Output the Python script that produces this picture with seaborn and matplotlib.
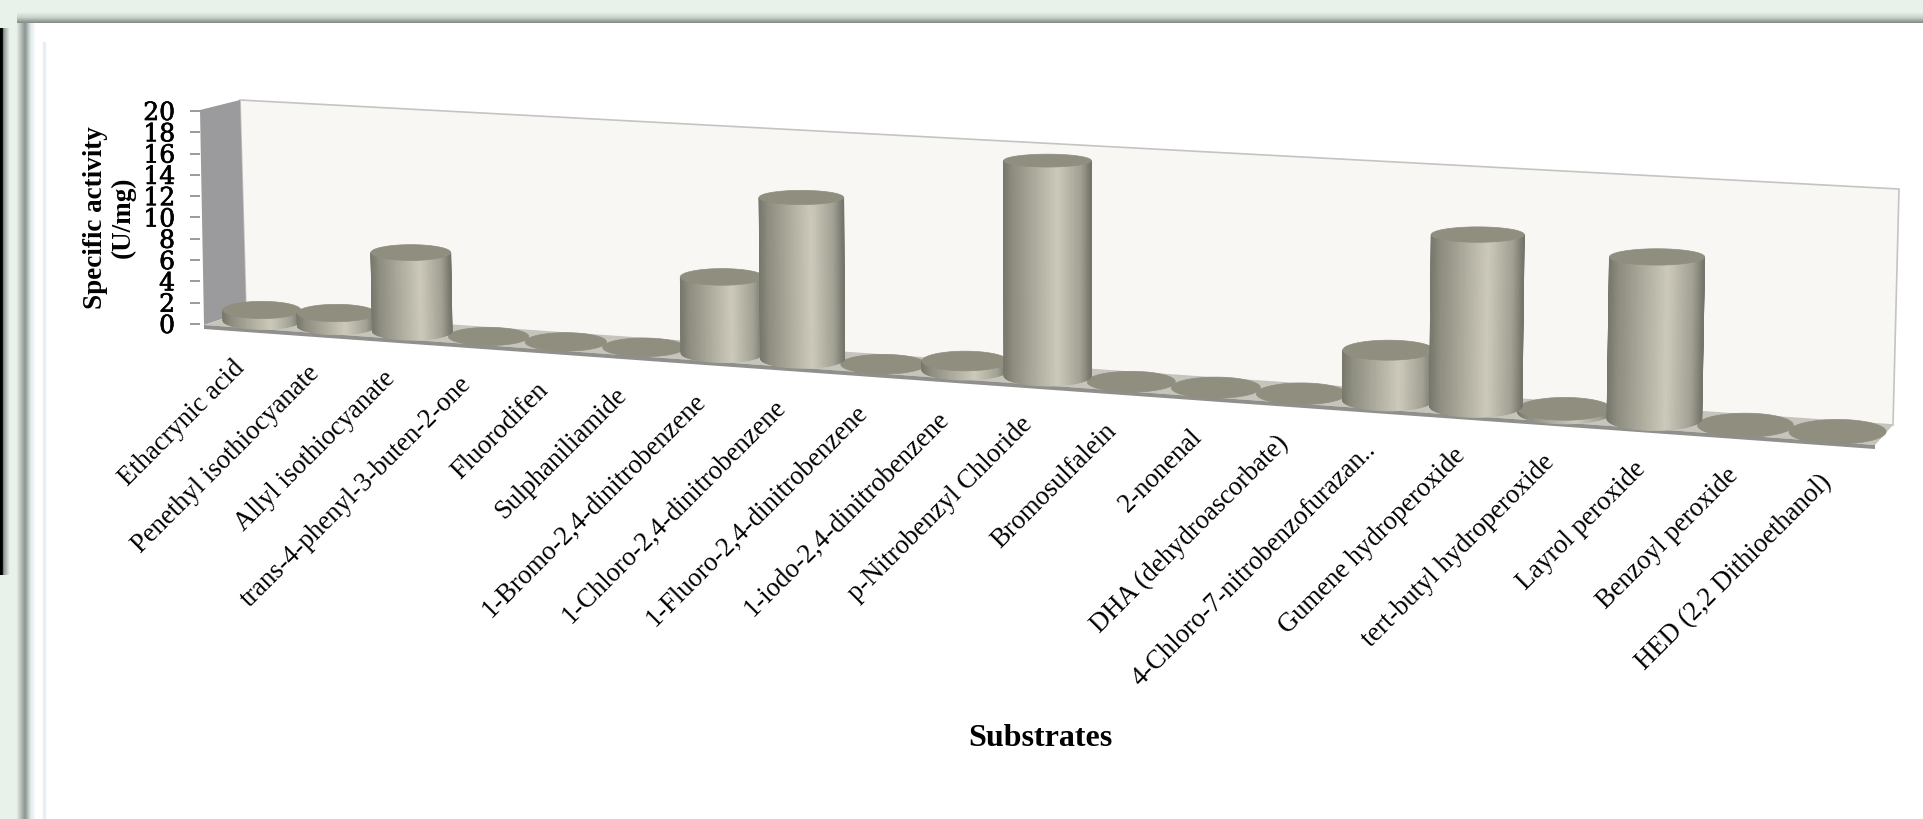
import numpy as np
import pandas as pd
import matplotlib
matplotlib.use("Agg")
import matplotlib.pyplot as plt
import matplotlib.patheffects as pe
from matplotlib.collections import PolyCollection
from matplotlib.colors import LinearSegmentedColormap
from matplotlib.patches import Polygon
from matplotlib.transforms import Transform, Affine2D
import seaborn as sns

# Specific activity of the enzyme towards each substrate
substrates = [
    "Ethacrynic acid", "Penethyl isothiocyanate", "Allyl isothiocyanate",
    "trans-4-phenyl-3-buten-2-one", "Fluorodifen", "Sulphaniliamide",
    "1-Bromo-2,4-dinitrobenzene", "1-Chloro-2,4-dinitrobenzene",
    "1-Fluoro-2,4-dinitrobenzene", "1-iodo-2,4-dinitrobenzene",
    "p-Nitrobenzyl Chloride", "Bromosulfalein", "2-nonenal",
    "DHA (dehydroascorbate)", "4-Chloro-7-nitrobenzofurazan..",
    "Gumene hydroperoxide", "tert-butyl hydroperoxide", "Layrol peroxide",
    "Benzoyl peroxide", "HED (2,2 Dithioethanol)",
]
activity = [1.0, 1.2, 7.3, 0, 0, 0, 6.9, 14.5, 0, 0.8,
            19.0, 0, 0, 0, 4.3, 14.7, 0.3, 13.7, 0, 0]
y_ticks = list(range(0, 21, 2))

W, H = 1923, 819
sns.set_style("white")
plt.rcParams["font.family"] = ["Liberation Serif", "DejaVu Serif"]


def homography(src, dst):
    """Solve the 3x3 plane mapping that carries four src points onto dst."""
    rows, rhs = [], []
    for (a, b), (px, py) in zip(src, dst):
        rows.append([a, b, 1, 0, 0, 0, -a * px, -b * px])
        rows.append([0, 0, 0, a, b, 1, -a * py, -b * py])
        rhs += [px, py]
    return np.append(np.linalg.solve(np.array(rows, float), np.array(rhs, float)), 1).reshape(3, 3)


# Chart box: corners on screen of the front and back planes, (category, value) -> pixels from top-left
n = len(substrates)
box = [(-0.5, 0), (n - 0.5, 0), (n - 0.5, 20), (-0.5, 20)]
front_px = [(204, 325), (1875, 445), (1880, 200), (200, 110)]
back_px = [(246, 311), (1893, 425), (1899, 189), (240, 100)]
H_front = homography(box, front_px)
H_back = homography(box, back_px)
X_BOW = 12  # eases the foreshortening along the category direction


def project(u, v, depth=0.5):
    u, v, depth = np.broadcast_arrays(np.asarray(u, float), np.asarray(v, float), np.asarray(depth, float))
    pts = np.stack([u, v, np.ones_like(u)], axis=-1)
    f = pts @ H_front.T
    b = pts @ H_back.T
    f = f[..., :2] / f[..., 2:]
    b = b[..., :2] / b[..., 2:]
    xy = f * (1 - depth)[..., None] + b * depth[..., None]
    s = (u + 0.5) / n
    xy[..., 0] += X_BOW * s * (1 - s)
    return xy


class BoxTransform(Transform):
    """(category, value) at a fixed depth of the box -> display coordinates."""
    input_dims = output_dims = 2
    is_affine = False
    has_inverse = False

    def __init__(self, plane_depth=0.5):
        super().__init__()
        self.plane_depth = plane_depth

    def transform_non_affine(self, values):
        values = np.asarray(values, float)
        xy = project(values[:, 0], values[:, 1], self.plane_depth)
        return np.column_stack([xy[:, 0], H - xy[:, 1]])


fig = plt.figure(figsize=(W / 100, H / 100), dpi=100, facecolor="#e9f2ea")

# Page furniture behind the chart
bg = fig.add_axes([0, 0, 1, 1], zorder=0)
bg.axis("off")


def shade(ax, extent, colors, vertical=False):
    cmap = LinearSegmentedColormap.from_list("band", colors)
    grad = np.linspace(0, 1, 64)
    grad = grad[:, None] if vertical else grad[None, :]
    ax.imshow(grad, extent=extent, cmap=cmap, aspect="auto", interpolation="bilinear",
              zorder=1, origin="upper")


bg.add_patch(plt.Rectangle((24, 23), W, H, color="white", zorder=0.5))
shade(bg, (17, W, 23, 12), ["#e9f2ea", "#c9d2cb", "#7f8a82"], vertical=True)
shade(bg, (16, 25, H, 23), ["#eef4ef", "#8e9690"])
shade(bg, (25, 36, H, 23), ["#8b9390", "#dfe8ea", "#ffffff"])
shade(bg, (0, 10, 575, 28), [(0, "#000000"), (0.27, "#000000"), (0.32, "#8a8f8a"), (1, "#eef4ef")])
bg.add_patch(plt.Rectangle((42.5, 42), 2, H, color="#e8eef2", zorder=2))
bg.set_xlim(0, W)
bg.set_ylim(H, 0)

# Chart axes: the value axis sits on the box's front-left edge
ax = fig.add_axes([200 / W, 1 - 324 / H, 1680 / W, 213 / H], zorder=2)
ax.patch.set_alpha(0)
df = pd.DataFrame({"substrate": substrates, "activity": activity})
sns.barplot(data=df, x="substrate", y="activity", color="#a9a798", width=0.8,
            order=substrates, ax=ax, zorder=3)
bars = list(ax.containers[0])
ax.set_xlim(-0.5, n - 0.5)
ax.set_ylim(0, 20)
ax.set_yticks(y_ticks)
ax.set_yticklabels(y_ticks, fontfamily="DejaVu Serif", fontsize=18, color="black")
for tick_label in ax.get_yticklabels():
    tick_label.set_path_effects([pe.withStroke(linewidth=0.5, foreground="black")])
ax.tick_params(axis="y", length=7, width=1.2, color="#8a8a8a", pad=11, left=True)
ax.tick_params(axis="x", bottom=False, labelbottom=False)
sns.despine(ax=ax, left=True, bottom=True)
ax.set_xlabel("Substrates", fontsize=23, fontweight="bold", color="black")
ax.xaxis.set_label_coords(0.5, -400 / 213)
ax.set_ylabel("Specific activity\n(U/mg)", fontsize=19.5, fontweight="bold", color="black",
              linespacing=1.1)
ax.yaxis.set_label_coords(-0.0385, 0.5)


def box_poly(pts, **kw):
    pts = np.asarray(pts, float)
    p = Polygon(np.column_stack([pts[:, 0], H - pts[:, 1]]), closed=True, clip_on=False, **kw)
    p.set_transform(Affine2D())
    ax.add_patch(p)
    return p


L, R = -0.5, n - 0.5
# Back wall, side wall, floor and the thin front lip of the floor
box_poly(project([L, R, R, L], [0, 0, 20, 20], 1.0), facecolor="#f8f7f3", edgecolor="#c4c4c2", lw=1.2, zorder=1)
box_poly(project([L, L, L, L], [0, 0, 20, 20], [0, 1, 1, 0]), facecolor="#9b9b9e", edgecolor="none", zorder=1.1)
box_poly(project([L, R, R, L], [0, 0, 0, 0], [0, 0, 1, 1]), facecolor="#c6c4bb", edgecolor="none", zorder=1.2)
lip = project([L, R, R, L], [0, 0, 0, 0], [0, 0, 0, 0])
lip[2:, 1] += 4
box_poly(lip, facecolor="#8f8f8c", edgecolor="none", zorder=1.3)

# Cylinders: every seaborn bar supplies the position, width and height of one
body_cmap = LinearSegmentedColormap.from_list(
    "body", [(0, "#77776c"), (0.12, "#8f8e81"), (0.62, "#cdcaba"), (0.88, "#a2a194"), (1, "#75756b")])
theta = np.linspace(np.pi, 0, 61)
circle = np.linspace(0, 2 * np.pi, 90)
REL_DEPTH = 0.62
RADIUS_SCALE = 1.31


def rim(u0, r, v, angle):
    """Level ellipse of a cylinder at value v, in pixels from the top-left."""
    cx, cy = project(u0, v, 0.5)
    a = (project(u0 + r, v, 0.5)[0] - project(u0 - r, v, 0.5)[0]) / 2
    b = REL_DEPTH * (project(u0, v, 0.0)[1] - project(u0, v, 1.0)[1])
    return np.column_stack([cx + a * np.cos(angle), cy + b * np.sin(angle)])


mid_plane = BoxTransform(0.5)
for bar in bars:
    bar.set_transform(mid_plane)
    bar.set_clip_on(False)
    u0 = bar.get_x() + bar.get_width() / 2
    r = RADIUS_SCALE * bar.get_width() / 2
    top = bar.get_height()
    z = 3 + top / 100
    bar.set_zorder(z)
    if top > 0:
        lower = rim(u0, r, 0, theta)
        upper = rim(u0, r, top, theta)
        lower[:, 1] = H - lower[:, 1]
        upper[:, 1] = H - upper[:, 1]
        quads = [np.array([lower[i], lower[i + 1], upper[i + 1], upper[i]]) for i in range(len(theta) - 1)]
        shades = 0.5 + 0.5 * np.cos(0.5 * (theta[:-1] + theta[1:]))
        coll = PolyCollection(quads, array=shades, cmap=body_cmap, clim=(0, 1),
                              edgecolors="face", linewidths=0.6, transform=Affine2D(), clip_on=False, zorder=z)
        ax.add_collection(coll, autolim=False)
    box_poly(rim(u0, r, top, circle), facecolor="#8f8e7f", edgecolor="#8f8e7f", lw=0.5, zorder=z + 0.001)

# Category names run along the sloping front edge of the floor
label_anchor = BoxTransform(0.0) + Affine2D().translate(0, -37)
for i, name in enumerate(substrates):
    ax.text(i, 0, name, transform=label_anchor, rotation=45, rotation_mode="anchor",
            ha="right", va="center", fontsize=19.2, color="black", clip_on=False)

fig.savefig("out.png", dpi=100)
